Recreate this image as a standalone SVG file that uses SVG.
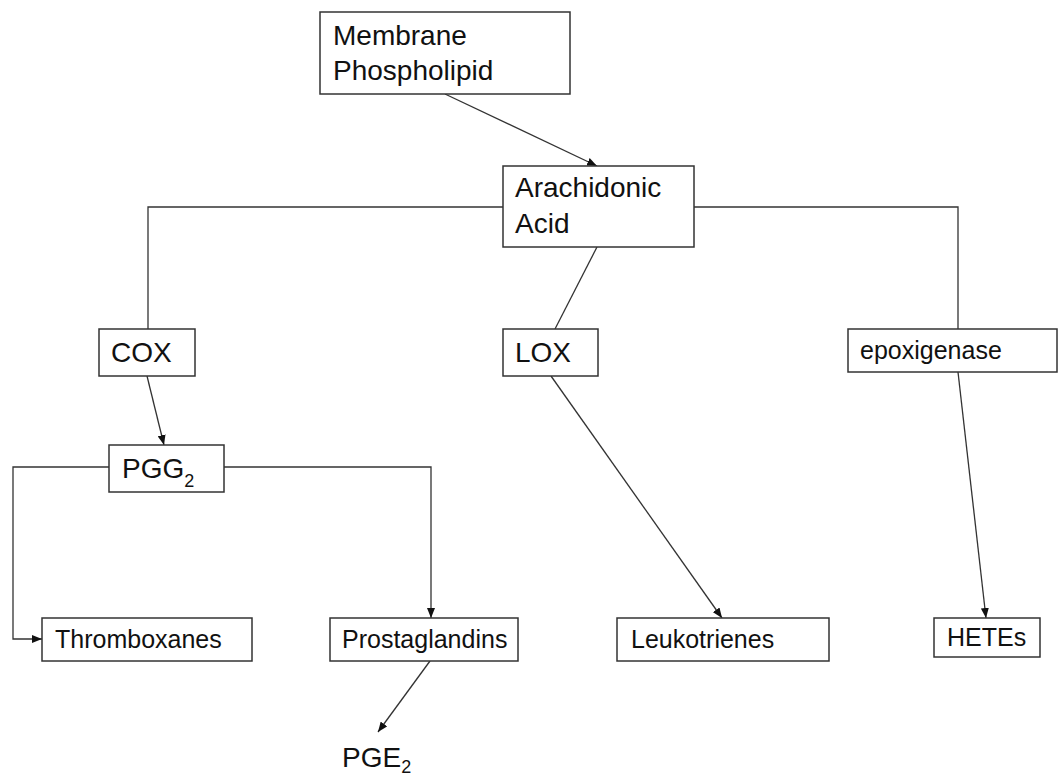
<svg xmlns="http://www.w3.org/2000/svg" width="1060" height="777" viewBox="0 0 1060 777">
<style>
.box{fill:#fff;stroke:#333;stroke-width:1.5}
.big{font-family:"Liberation Sans",Arial,sans-serif;font-size:28px;fill:#111}
.sm{font-family:"Liberation Sans",Arial,sans-serif;font-size:25px;fill:#111}
.sub{font-family:"Liberation Sans",Arial,sans-serif;font-size:18px;fill:#111}
.ln{fill:none;stroke:#333;stroke-width:1.3}
</style>
<defs>
<marker id="ah" viewBox="0 0 10 8" refX="10" refY="4" markerWidth="10" markerHeight="8" markerUnits="userSpaceOnUse" orient="auto">
<path d="M0,0 L10,4 L0,8 Z" fill="#111"/>
</marker>
</defs>
<rect width="1060" height="777" fill="#fff"/>
<g id="connectors">
<line class="ln" x1="445" y1="94" x2="597" y2="166" marker-end="url(#ah)"/>
<polyline class="ln" points="503,207 148,207 148,329"/>
<polyline class="ln" points="694,207 958,207 958,329"/>
<line class="ln" x1="597" y1="247" x2="555" y2="329"/>
<line class="ln" x1="147" y1="376" x2="164" y2="445" marker-end="url(#ah)"/>
<polyline class="ln" points="109,467 13,467 13,639 42,639" marker-end="url(#ah)"/>
<polyline class="ln" points="224,467 431,467 431,618" marker-end="url(#ah)"/>
<line class="ln" x1="551" y1="376" x2="722" y2="618" marker-end="url(#ah)"/>
<line class="ln" x1="958" y1="372" x2="986" y2="618" marker-end="url(#ah)"/>
<line class="ln" x1="430" y1="661" x2="378" y2="732" marker-end="url(#ah)"/>
</g>
<g id="membrane">
<rect class="box" x="320" y="12" width="250" height="82"/>
<text class="big" x="333" y="45">Membrane</text>
<text class="big" x="333" y="80">Phospholipid</text>
</g>
<g id="arachidonic">
<rect class="box" x="503" y="166" width="191" height="81"/>
<text class="big" x="515" y="197">Arachidonic</text>
<text class="big" x="515" y="233">Acid</text>
</g>
<g id="cox">
<rect class="box" x="99" y="329" width="96" height="47"/>
<text class="big" x="111" y="362">COX</text>
</g>
<g id="lox">
<rect class="box" x="503" y="329" width="95" height="47"/>
<text class="big" x="515" y="362">LOX</text>
</g>
<g id="epoxigenase">
<rect class="box" x="848" y="329" width="209" height="43"/>
<text class="sm" x="860" y="359">epoxigenase</text>
</g>
<g id="pgg2">
<rect class="box" x="109" y="445" width="115" height="47"/>
<text class="big" x="122" y="478">PGG<tspan class="sub" dy="9">2</tspan></text>
</g>
<g id="thromboxanes">
<rect class="box" x="42" y="618" width="210" height="43"/>
<text class="sm" x="55" y="648">Thromboxanes</text>
</g>
<g id="prostaglandins">
<rect class="box" x="330" y="618" width="188" height="43"/>
<text class="sm" x="342" y="648">Prostaglandins</text>
</g>
<g id="leukotrienes">
<rect class="box" x="617" y="618" width="212" height="43"/>
<text class="sm" x="631" y="648">Leukotrienes</text>
</g>
<g id="hetes">
<rect class="box" x="934" y="618" width="106" height="39"/>
<text class="sm" x="947" y="646">HETEs</text>
</g>
<g id="pge2">
<text class="big" x="342" y="767">PGE<tspan class="sub" dy="6">2</tspan></text>
</g>
</svg>
